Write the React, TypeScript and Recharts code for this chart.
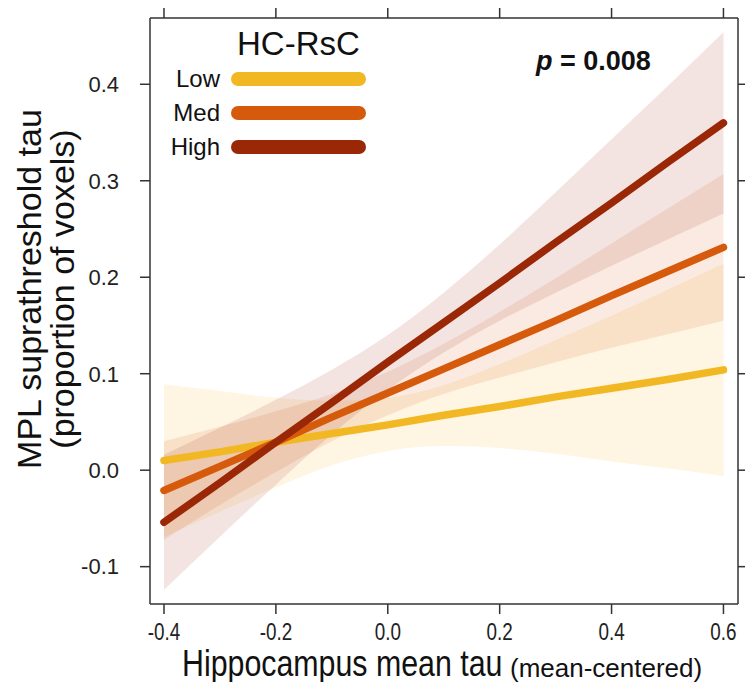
import { Area, ComposedChart, Line, XAxis, YAxis } from "recharts";

const LOW = "#F2B823";
const MED = "#D65A0C";
const HIGH = "#9A2806";
const INK = "#222222";
const FRAME = "#333333";
const SANS = "'Liberation Sans', Arial, sans-serif";

// hippocampus mean tau (mean-centered)
const xValues = [-0.4, -0.3, -0.2, -0.1, 0.0, 0.1, 0.2, 0.3, 0.4, 0.5, 0.6];

// fitted lines per HC-RsC level
const lowFit = [0.010, 0.019, 0.029, 0.038, 0.047, 0.057, 0.066, 0.076, 0.085, 0.094, 0.104];
const medFit = [-0.021, 0.004, 0.029, 0.055, 0.080, 0.105, 0.130, 0.155, 0.181, 0.206, 0.231];
const highFit = [-0.054, -0.013, 0.029, 0.070, 0.112, 0.153, 0.194, 0.236, 0.277, 0.319, 0.360];

// confidence bands
const lowLower = [-0.069, -0.043, -0.018, 0.005, 0.020, 0.025, 0.023, 0.017, 0.009, 0.002, -0.006];
const lowUpper = [0.089, 0.082, 0.075, 0.072, 0.075, 0.088, 0.110, 0.135, 0.160, 0.187, 0.214];
const medLower = [-0.072, -0.036, -0.002, 0.030, 0.057, 0.079, 0.096, 0.112, 0.127, 0.141, 0.155];
const medUpper = [0.030, 0.045, 0.061, 0.079, 0.102, 0.131, 0.164, 0.199, 0.235, 0.271, 0.307];
const highLower = [-0.124, -0.069, -0.015, 0.037, 0.083, 0.122, 0.155, 0.184, 0.212, 0.239, 0.266];
const highUpper = [0.016, 0.044, 0.073, 0.104, 0.140, 0.184, 0.234, 0.288, 0.343, 0.398, 0.454];

const xTicks = [-0.4, -0.2, 0.0, 0.2, 0.4, 0.6];
const yTicks = [-0.1, 0.0, 0.1, 0.2, 0.3, 0.4];

const legendItems = [
  { name: "Low", color: LOW },
  { name: "Med", color: MED },
  { name: "High", color: HIGH },
];

const data = xValues.map((x, i) => ({
  x,
  low: lowFit[i],
  med: medFit[i],
  high: highFit[i],
  lowBand: [lowLower[i], lowUpper[i]],
  medBand: [medLower[i], medUpper[i]],
  highBand: [highLower[i], highUpper[i]],
}));

const fmt = (v: number) => v.toFixed(1);
const blank = () => "";

// bottom tick labels are set in a condensed face in the original
function NarrowTick(props: any) {
  const { x, y, payload } = props;
  return (
    <text
      transform={`translate(${x},${y + 24}) scale(0.82,1)`}
      textAnchor="middle"
      fontSize={23}
      fill={INK}
      fontFamily={SANS}
    >
      {fmt(payload.value)}
    </text>
  );
}

const frameAxis = {
  axisLine: { stroke: FRAME, strokeWidth: 1.5 },
  tickLine: { stroke: FRAME, strokeWidth: 1.5 },
  tickSize: 10,
};

export default function App() {
  return (
    <div style={{ position: "absolute", left: 0, top: 0, width: 745, height: 682, background: "#fff" }}>
      <ComposedChart
        width={745}
        height={682}
        data={data}
        margin={{ top: 17, right: 6, bottom: 0, left: 0 }}
      >
        <XAxis
          dataKey="x"
          type="number"
          domain={[-0.425, 0.626]}
          ticks={xTicks}
          allowDataOverflow
          height={78}
          {...frameAxis}
          tick={<NarrowTick />}
        />
        <XAxis
          xAxisId="top"
          dataKey="x"
          orientation="top"
          type="number"
          domain={[-0.425, 0.626]}
          ticks={xTicks}
          allowDataOverflow
          tickFormatter={blank}
          height={1}
          {...frameAxis}
        />
        <YAxis
          type="number"
          domain={[-0.1387, 0.4687]}
          ticks={yTicks}
          allowDataOverflow
          tickFormatter={fmt}
          width={150}
          tickMargin={21}
          {...frameAxis}
          tick={{ fontSize: 22, fill: INK, fontFamily: SANS }}
        />
        <YAxis
          yAxisId="right"
          orientation="right"
          type="number"
          domain={[-0.1387, 0.4687]}
          ticks={yTicks}
          allowDataOverflow
          tickFormatter={blank}
          width={1}
          {...frameAxis}
        />
        <Area
          type="monotone"
          dataKey="lowBand"
          stroke="none"
          fill="#F5B530"
          fillOpacity={0.14}
          isAnimationActive={false}
        />
        <Area
          type="monotone"
          dataKey="medBand"
          stroke="none"
          fill="#D86018"
          fillOpacity={0.13}
          isAnimationActive={false}
        />
        <Area
          type="monotone"
          dataKey="highBand"
          stroke="none"
          fill="#A03020"
          fillOpacity={0.13}
          isAnimationActive={false}
        />
        <Line
          type="linear"
          dataKey="low"
          stroke={LOW}
          strokeWidth={7.5}
          strokeLinecap="round"
          dot={false}
          isAnimationActive={false}
        />
        <Line
          type="linear"
          dataKey="med"
          stroke={MED}
          strokeWidth={7.5}
          strokeLinecap="round"
          dot={false}
          isAnimationActive={false}
        />
        <Line
          type="linear"
          dataKey="high"
          stroke={HIGH}
          strokeWidth={7.5}
          strokeLinecap="round"
          dot={false}
          isAnimationActive={false}
        />
      </ComposedChart>

      {/* legend */}
      <div style={{ position: "absolute", left: 237, top: 26, fontFamily: SANS, fontSize: 33, color: "#111", lineHeight: "36px" }}>
        HC-RsC
      </div>
      {legendItems.map((item, i) => (
        <div key={item.name}>
          <div
            style={{
              position: "absolute",
              right: 745 - 220,
              top: 79 + i * 34 - 14,
              fontFamily: SANS,
              fontSize: 24,
              lineHeight: "28px",
              color: "#111",
            }}
          >
            {item.name}
          </div>
          <div
            style={{
              position: "absolute",
              left: 231,
              top: 79 + i * 34 - 7,
              width: 135,
              height: 14,
              borderRadius: 7,
              background: item.color,
            }}
          />
        </div>
      ))}

      <div style={{ position: "absolute", left: 536, top: 46, fontFamily: SANS, fontSize: 27, fontWeight: 700, color: "#111", lineHeight: "30px" }}>
        <i>p</i> = 0.008
      </div>

      {/* axis titles */}
      <div
        style={{
          position: "absolute",
          left: 182,
          top: 649,
          fontFamily: SANS,
          fontSize: 37,
          lineHeight: "30px",
          color: "#111",
          whiteSpace: "nowrap",
          transform: "scaleX(0.82)",
          transformOrigin: "left center",
        }}
      >
        Hippocampus mean tau
      </div>
      <div
        style={{
          position: "absolute",
          left: 510,
          top: 655,
          fontFamily: SANS,
          fontSize: 26,
          lineHeight: "26px",
          color: "#111",
          whiteSpace: "nowrap",
        }}
      >
        (mean-centered)
      </div>
      <div
        style={{
          position: "absolute",
          left: 46,
          top: 289,
          width: 420,
          transform: "translate(-50%, -50%) rotate(-90deg)",
          textAlign: "center",
          fontFamily: SANS,
          fontSize: 34,
          lineHeight: "33px",
          color: "#111",
          whiteSpace: "nowrap",
        }}
      >
        MPL suprathreshold tau
        <br />
        (proportion of voxels)
      </div>
    </div>
  );
}
